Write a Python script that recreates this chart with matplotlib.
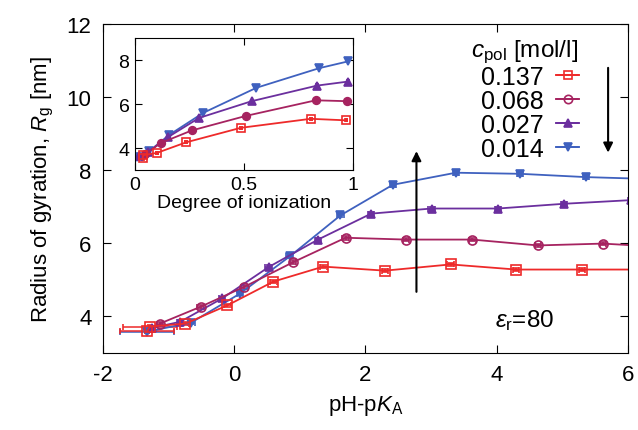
import matplotlib
matplotlib.use("Agg")
import matplotlib.pyplot as plt

plt.rcParams['font.family'] = ['Liberation Sans', 'DejaVu Sans']
plt.rcParams['mathtext.fontset'] = 'custom'
plt.rcParams['mathtext.rm'] = 'Liberation Sans'
plt.rcParams['mathtext.it'] = 'Liberation Sans:italic'
plt.rcParams['axes.unicode_minus'] = False

# ---- data (main: Rg vs pH-pKA) ----
labels = ["0.137", "0.068", "0.027", "0.014"]
colors = ["#ee2a2a", "#a62360", "#6b2f9e", "#3f61bf"]
markers = ["s", "o", "^", "v"]

red_x = [-1.32, -1.28, -0.74, -0.10, 0.60, 1.36, 2.30, 3.30, 4.30, 5.30, 6.30]
red_y = [3.60, 3.72, 3.80, 4.30, 4.95, 5.36, 5.25, 5.42, 5.28, 5.28, 5.28]
red_xerr = [0.41, 0.41, 0.05, 0.05, 0.05, 0.05, 0.05, 0.05, 0.05, 0.05, 0.05]

mag_x = [-1.13, -0.51, 0.16, 0.90, 1.70, 2.62, 3.63, 4.63, 5.62, 6.50]
mag_y = [3.80, 4.26, 4.81, 5.48, 6.15, 6.10, 6.10, 5.94, 5.99, 5.90]
mag_xerr = [0.05] * 10

pur_x = [-1.25, -0.82, -0.18, 0.53, 1.28, 2.09, 3.01, 4.02, 5.03, 6.05]
pur_y = [3.68, 3.85, 4.49, 5.35, 6.10, 6.81, 6.95, 6.95, 7.08, 7.18]
pur_xerr = [0.05] * 10

blu_x = [-1.32, -0.65, 0.09, 0.85, 1.62, 2.42, 3.38, 4.36, 5.36, 6.30]
blu_y = [3.58, 3.83, 4.62, 5.64, 6.76, 7.60, 7.93, 7.90, 7.81, 7.76]
blu_xerr = [0.41, 0.05, 0.05, 0.05, 0.05, 0.05, 0.05, 0.05, 0.05, 0.05]

# ---- data (inset: Rg vs degree of ionization) ----
in_red_x = [0.035, 0.038, 0.10, 0.234, 0.485, 0.806, 0.970]
in_red_y = [3.53, 3.68, 3.78, 4.26, 4.92, 5.33, 5.26]
in_mag_x = [0.046, 0.118, 0.260, 0.508, 0.829, 0.974]
in_mag_y = [3.72, 4.23, 4.80, 5.46, 6.17, 6.13]
in_pur_x = [0.020, 0.060, 0.150, 0.294, 0.535, 0.836, 0.976]
in_pur_y = [3.65, 3.82, 4.49, 5.37, 6.13, 6.84, 7.02]
in_blu_x = [0.010, 0.064, 0.157, 0.313, 0.557, 0.845, 0.978]
in_blu_y = [3.60, 3.85, 4.60, 5.60, 6.74, 7.63, 7.94]

main_series = [(red_x, red_y, red_xerr), (mag_x, mag_y, mag_xerr),
               (pur_x, pur_y, pur_xerr), (blu_x, blu_y, blu_xerr)]
inset_series = [(in_red_x, in_red_y), (in_mag_x, in_mag_y),
                (in_pur_x, in_pur_y), (in_blu_x, in_blu_y)]

fig = plt.figure(figsize=(6.38, 4.31), dpi=100)
ax = fig.add_axes([0.161, 0.179, 0.823, 0.763])

# draw from last to first so red ends on top
for i in [3, 2, 1, 0]:
    x, y, xe = main_series[i]
    filled = markers[i] in ("^", "v")
    ax.errorbar(x, y, xerr=xe, yerr=0.05, color=colors[i], marker=markers[i],
                ms=6 if filled else 6.5, mfc=colors[i] if filled else 'none',
                mec=colors[i], mew=1.2, lw=1.3, elinewidth=1.1, capsize=2,
                capthick=1.1, clip_on=True)

ax.set_xlim(-2, 6)
ax.set_ylim(3, 12)
ax.set_xticks([-2, 0, 2, 4, 6])
ax.set_yticks([4, 6, 8, 10, 12])
ax.tick_params(direction='in', top=True, right=True, labelsize=16, length=6, pad=8)
ax.set_xlabel(r"pH-p$\mathit{K}_{\rm A}$", fontsize=16, labelpad=6)
ax.set_ylabel(r"Radius of gyration, $\mathit{R}_{\rm g}$ [nm]", fontsize=16, labelpad=8)

# legend via proxy errorbar handles
handles = []
for i in range(4):
    filled = markers[i] in ("^", "v")
    h = ax.errorbar([], [], xerr=[], color=colors[i], marker=markers[i], ms=6,
                    mfc=colors[i] if filled else 'none', mec=colors[i], mew=1.2,
                    lw=1.3, capsize=3, capthick=1.2, label=labels[i])
    handles.append(h)
leg = ax.legend(handles=handles, labels=labels, loc='upper right',
                bbox_to_anchor=(0.925, 0.99), frameon=False, markerfirst=False,
                fontsize=18, handlelength=0.85, handletextpad=0.55,
                labelspacing=0.0, borderaxespad=0.0,
                title=r"$\mathit{c}_{\rm pol}$ [mol/l]", title_fontsize=17.5)
leg._legend_box.align = "right"

ax.annotate('', xy=(2.78, 8.52), xytext=(2.78, 4.67),
            arrowprops=dict(arrowstyle='-|>', color='black', lw=1.5,
                            mutation_scale=14, shrinkA=0, shrinkB=0))
ax.annotate('', xy=(5.7, 8.48), xytext=(5.7, 10.8),
            arrowprops=dict(arrowstyle='-|>', color='black', lw=1.5,
                            mutation_scale=14, shrinkA=0, shrinkB=0))
ax.text(3.97, 3.92, r"$\mathit{\varepsilon}_{\rm r}$=80", fontsize=17.5, va='center', ha='left')

# inset
axi = fig.add_axes([0.2116, 0.603, 0.3417, 0.3065])
for i in [3, 2, 1, 0]:
    x, y = inset_series[i]
    filled = markers[i] != "s"
    axi.errorbar(x, y, xerr=0.004, yerr=0.05, color=colors[i], marker=markers[i],
                 ms=5.5, mfc=colors[i] if filled else 'none', mec=colors[i],
                 mew=1.2, lw=1.3, elinewidth=1.0, capsize=1.5)
axi.set_xlim(0, 1)
axi.set_ylim(3, 9)
axi.set_xticks([0, 0.5, 1])
axi.set_xticklabels(["0", "0.5", "1"])
axi.set_yticks([4, 6, 8])
axi.tick_params(direction='in', top=True, right=True, labelsize=14, length=5, pad=4)
axi.set_xlabel("Degree of ionization", fontsize=14, labelpad=1)

fig.savefig("out.png", dpi=100)
